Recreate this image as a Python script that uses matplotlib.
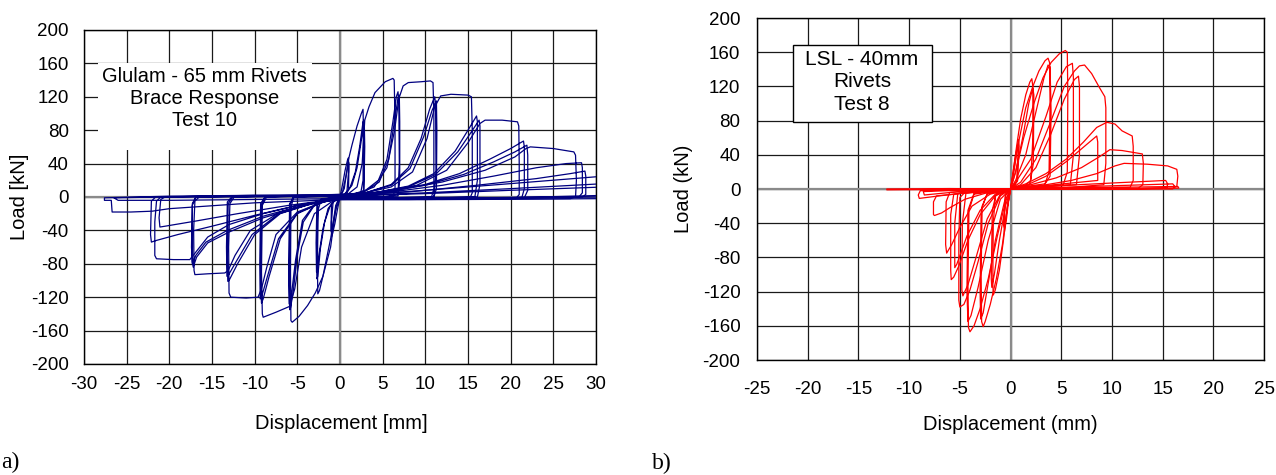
import numpy as np
import matplotlib
matplotlib.use("Agg")
import matplotlib.pyplot as plt
from matplotlib.patches import Rectangle

plt.rcParams['font.family'] = ['Liberation Sans', 'DejaVu Sans']
plt.rcParams['axes.unicode_minus'] = False

# Glulam - 65 mm rivets, test 10 (displacement mm, load kN), one list per amplitude stage
glulam_s1 = [(0, 0), (0.3, 15), (0.6, 32), (0.9, 45), (1.0, 47), (1.0, 30), (0.8, 5), (0.4, 2), (0, 0),
             (-0.3, -15), (-0.6, -32), (-0.9, -45), (-1.0, -48), (-1.0, -30), (-0.8, -5), (-0.4, -2), (0, 0),
             (0.3, 6), (0.7, 25), (1.0, 42), (1.05, 40), (1.0, 8), (0.5, 2), (0, 0),
             (-0.3, -6), (-0.7, -25), (-1.0, -42), (-1.05, -40), (-1.0, -8), (-0.5, -2), (0, 0)]
glulam_s2 = [(0, 0), (0.5, 10), (1.0, 45), (1.4, 62), (2.0, 85), (2.5, 100), (2.7, 105), (2.75, 80), (2.7, 20),
             (2.4, 3), (1.5, 1), (0, 0), (-0.5, -10), (-1.0, -45), (-1.5, -70), (-2.0, -95), (-2.4, -112),
             (-2.6, -116), (-2.65, -80), (-2.55, -15), (-2.2, -3), (-1, -1), (0, 0),
             (0.5, 3), (1.2, 12), (1.8, 30), (2.3, 60), (2.7, 90), (2.8, 92), (2.85, 60), (2.75, 8), (2.3, 2), (0, 0),
             (-0.5, -3), (-1.2, -12), (-1.8, -30), (-2.3, -62), (-2.6, -95), (-2.7, -98), (-2.72, -60),
             (-2.6, -8), (-2.2, -2), (0, 0),
             (0.6, 3), (1.4, 14), (2.0, 35), (2.5, 68), (2.85, 86), (2.9, 60), (2.8, 6), (2.3, 1), (0, 0),
             (-0.6, -3), (-1.4, -14), (-2.0, -38), (-2.5, -72), (-2.75, -90), (-2.8, -55), (-2.7, -6), (0, 0)]
glulam_s3 = [(0, 0), (1, 4), (2, 12), (2.6, 40), (2.9, 92), (3.4, 108), (4.1, 125), (5.3, 138), (6.2, 142),
             (6.35, 140), (6.45, 90), (6.45, 10), (6.2, -1), (3, -2), (0, -2),
             (-0.5, -15), (-1.1, -60), (-2.0, -95), (-2.9, -115), (-3.8, -130), (-4.8, -143), (-5.6, -150),
             (-5.75, -148), (-5.8, -90), (-5.75, -12), (-5.4, 0), (-3, 1), (0, 2),
             (1, 2), (3, 8), (4.5, 20), (5.5, 45), (6.2, 90), (6.6, 120), (6.8, 126), (6.9, 110), (6.95, 40),
             (6.8, 3), (5, 0), (0, 0), (-1, -3), (-3, -10), (-4.3, -30), (-5.0, -70), (-5.5, -115), (-5.8, -133),
             (-5.9, -135), (-5.95, -100), (-5.9, -10), (-5.5, 0), (0, 1),
             (1, 2), (3, 7), (4.6, 18), (5.7, 45), (6.4, 92), (6.8, 118), (6.95, 122), (7.0, 90), (7.0, 20),
             (6.8, 1), (0, -1), (-1, -3), (-3, -9), (-4.4, -28), (-5.2, -75), (-5.7, -118), (-5.95, -128),
             (-6.0, -90), (-5.9, -8), (-5.4, 0), (0, 1)]
glulam_s4 = [(0, 1), (2, 4), (4, 12), (5.5, 35), (6.4, 80), (6.9, 118), (7.4, 133), (8, 137), (9.5, 138),
             (10.6, 139), (10.9, 137), (11.0, 100), (11.0, 10), (10.7, -1), (6, -2), (0, -3),
             (-1, -6), (-3, -20), (-4.5, -60), (-5.3, -110), (-5.9, -131), (-7.5, -138), (-9.0, -144),
             (-9.1, -140), (-9.2, -90), (-9.1, -10), (-8.6, 0), (-4, 2), (0, 3),
             (3, 5), (6, 15), (8, 35), (9.5, 70), (10.5, 105), (11.1, 120), (11.2, 110), (11.25, 30), (11.0, 0),
             (6, -1), (0, -2), (-2, -6), (-5, -20), (-7, -50), (-8.3, -95), (-9.0, -122), (-9.2, -127),
             (-9.3, -100), (-9.2, -10), (-8.8, 0), (0, 2),
             (3, 5), (6, 14), (8.2, 34), (9.8, 72), (10.8, 104), (11.3, 115), (11.35, 80), (11.3, 10), (11.0, 0),
             (0, -2), (-2, -6), (-5, -19), (-7.2, -50), (-8.5, -95), (-9.2, -120), (-9.35, -122), (-9.4, -80),
             (-9.3, -8), (-8.8, 0), (0, 2)]
glulam_s5 = [(0, 1), (3, 5), (6, 12), (8.5, 30), (10.2, 70), (11.1, 108), (11.8, 121), (13, 123), (15.0, 122),
             (15.4, 120), (15.5, 80), (15.5, 5), (15.2, -2), (8, -3), (0, -3),
             (-2, -6), (-5, -18), (-7.5, -45), (-8.6, -85), (-9.2, -110), (-9.6, -120), (-11, -121),
             (-12.8, -120), (-13.0, -115), (-13.05, -60), (-12.9, -8), (-12.4, 0), (-6, 2), (0, 3),
             (4, 5), (8, 13), (11, 28), (13.5, 55), (15, 80), (16.0, 97), (16.1, 90), (16.1, 20), (15.8, 0),
             (8, -2), (0, -2), (-3, -7), (-7, -20), (-10, -45), (-12, -80), (-13, -100), (-13.15, -101),
             (-13.2, -70), (-13.1, -8), (-12.6, 0), (0, 2),
             (4, 5), (8, 12), (11.2, 27), (13.8, 54), (15.4, 78), (16.3, 92), (16.4, 85), (16.4, 15), (16.1, 0),
             (0, -2), (-3, -7), (-7.2, -20), (-10.3, -45), (-12.2, -78), (-13.1, -94), (-13.25, -95),
             (-13.3, -60), (-13.2, -6), (-12.7, 0), (0, 2)]
glulam_s6 = [(0, 1), (4, 5), (9, 14), (12.5, 32), (15, 65), (16.4, 88), (17.0, 92), (19, 92), (20.8, 90),
             (20.95, 85), (21.0, 40), (21.0, 3), (20.6, -2), (10, -3), (0, -3),
             (-3, -7), (-7, -18), (-10.5, -40), (-12.3, -70), (-13.1, -88), (-13.5, -91), (-15.5, -92),
             (-17.0, -93), (-17.1, -88), (-17.15, -40), (-17.0, -5), (-16.5, 0), (-8, 2), (0, 3),
             (5, 6), (10, 15), (14, 28), (17.5, 45), (20, 58), (21.5, 67), (21.6, 60), (21.6, 10), (21.3, -1),
             (10, -2), (0, -2), (-4, -10), (-9, -25), (-13, -42), (-15.5, -55), (-16.8, -72), (-17.2, -84),
             (-17.3, -78), (-17.3, -10), (-16.9, 0), (0, 2),
             (5, 6), (10, 14), (14.5, 27), (18, 42), (20.5, 54), (21.9, 62), (22.0, 50), (22.0, 8), (21.6, -1),
             (0, -2), (-4, -9), (-9, -23), (-13.2, -40), (-15.7, -54), (-16.9, -70), (-17.3, -80),
             (-17.4, -60), (-17.3, -8), (-16.9, 0), (0, 2)]
glulam_s7 = [(0, 1), (6, 7), (12, 18), (17, 32), (20.5, 48), (21.8, 58), (22.3, 60), (25, 58), (27.4, 54),
             (27.6, 50), (27.7, 20), (27.6, 0), (27, -2), (12, -3), (0, -3),
             (-4, -8), (-9, -20), (-13, -33), (-15.5, -48), (-17.2, -70), (-17.6, -75), (-19.5, -75),
             (-21.5, -74), (-21.7, -70), (-21.7, -30), (-21.5, -5), (-21, 0), (-10, 2), (0, 2),
             (6, 6), (12, 14), (18, 25), (23, 35), (26.5, 40), (28.3, 41), (28.4, 35), (28.4, 5), (28, 0),
             (14, -2), (0, -2), (-5, -10), (-10, -22), (-15, -35), (-19, -45), (-21.5, -52), (-22.1, -54),
             (-22.2, -45), (-22.1, -5), (-21.6, 0), (0, 2),
             (8, 6), (16, 14), (23, 22), (27, 28), (28.7, 31), (28.8, 25), (28.8, 3), (28.4, 0), (0, -2),
             (-6, -10), (-12, -20), (-17, -29), (-20.5, -35), (-21.1, -36), (-21.2, -25), (-21.0, -3),
             (-20.5, 0), (0, 2)]
glulam_s8 = [(0, 1), (10, 8), (20, 16), (31, 25), (31.5, 5), (30.5, -2), (15, -3), (0, -3),
             (-10, -7), (-20, -14), (-22, -17), (-24.5, -18), (-26.7, -18), (-26.8, -4), (-27.6, -4),
             (-27.6, -1), (-20, 1), (-10, 2), (0, 1),
             (10, 5), (20, 10), (31, 16), (31.2, 2), (15, -2), (0, -2), (-10, -3), (-20, -4), (-26, -4),
             (-26.5, -1), (-15, 1), (0, 1),
             (10, 4), (20, 8), (31, 12), (31.2, 0), (15, -1), (0, -1)]

# LSL - 40 mm rivets, test 8
lsl_s1 = [(0, 0), (0.2, 15), (0.5, 40), (0.8, 58), (0.85, 50), (0.7, 10), (0.3, 3), (0, 0),
          (-0.2, -15), (-0.4, -35), (-0.6, -50), (-0.65, -42), (-0.5, -8), (-0.2, -3), (0, 0),
          (0.3, 20), (0.7, 52), (0.75, 45), (0.6, 8), (0, 0), (-0.3, -20), (-0.6, -45), (-0.65, -38),
          (-0.5, -6), (0, 0)]
lsl_s2 = [(0, 0), (0.2, 15), (0.6, 50), (1.0, 82), (1.5, 110), (1.9, 125), (2.1, 129), (2.2, 120), (2.2, 60),
          (2.0, 10), (1.4, 4), (0, 0), (-0.3, -20), (-0.7, -60), (-1.1, -95), (-1.5, -118), (-1.7, -124),
          (-1.75, -110), (-1.7, -40), (-1.5, -8), (-0.8, -3), (0, 0),
          (0.5, 20), (1.2, 60), (1.8, 100), (2.2, 118), (2.3, 110), (2.25, 30), (1.9, 5), (0, 0),
          (-0.5, -20), (-1.1, -60), (-1.6, -100), (-1.85, -115), (-1.9, -105), (-1.8, -25), (-1.4, -5), (0, 0)]
lsl_s3 = [(0, 0), (0.3, 18), (0.8, 55), (1.5, 95), (2.2, 120), (2.8, 138), (3.4, 150), (3.7, 153),
          (3.85, 148), (3.9, 100), (3.8, 20), (3.4, 6), (1.5, 3), (0, 0),
          (-0.3, -20), (-0.8, -65), (-1.4, -105), (-2.0, -135), (-2.5, -155), (-2.7, -161), (-2.85, -155),
          (-2.9, -100), (-2.8, -20), (-2.3, -6), (-1, -3), (0, 0),
          (0.5, 10), (1.5, 40), (2.5, 90), (3.3, 130), (3.7, 145), (3.9, 143), (4.0, 90), (3.9, 15),
          (3.3, 4), (0, 0), (-0.6, -15), (-1.5, -60), (-2.2, -110), (-2.7, -145), (-2.95, -152),
          (-3.0, -120), (-2.9, -25), (-2.3, -5), (0, 0)]
lsl_s4 = [(0, 0), (0.5, 20), (1.3, 60), (2.3, 100), (3.2, 130), (4.0, 148), (4.8, 158), (5.4, 162),
          (5.6, 160), (5.65, 110), (5.6, 20), (5.2, 5), (2, 2), (0, 0),
          (-0.5, -15), (-1.3, -55), (-2.2, -105), (-3.0, -140), (-3.6, -160), (-4.0, -167), (-4.15, -162),
          (-4.2, -110), (-4.1, -25), (-3.6, -6), (-1, -2), (0, 0),
          (0.5, 8), (2, 35), (3.5, 85), (4.6, 125), (5.5, 143), (6.1, 147), (6.2, 130), (6.2, 40), (5.9, 5),
          (0, 0), (-1, -12), (-2.2, -60), (-3.2, -115), (-3.9, -148), (-4.2, -155), (-4.3, -120),
          (-4.2, -25), (-3.6, -5), (0, 0)]
lsl_s5 = [(0, 0), (1, 8), (2.5, 35), (4, 80), (5.3, 120), (6.3, 138), (6.8, 144), (7.3, 145), (8.0, 135),
          (8.8, 118), (9.3, 108), (9.4, 95), (9.4, 30), (9.2, 5), (6, 2), (0, 0),
          (-1, -8), (-2.2, -40), (-3.2, -85), (-4.0, -118), (-4.6, -135), (-5.0, -138), (-5.1, -130),
          (-5.1, -60), (-5.0, -10), (-4.5, -4), (-2, -2), (0, 0),
          (1, 5), (2.5, 25), (4, 65), (5.3, 105), (6.3, 128), (6.7, 132), (6.8, 120), (6.8, 40), (6.5, 5),
          (0, 0), (-1, -6), (-2.3, -35), (-3.4, -80), (-4.2, -112), (-4.7, -125), (-4.8, -118),
          (-4.75, -40), (-4.4, -5), (0, 0)]
lsl_s6 = [(0, 0), (1.5, 6), (3.5, 18), (5.5, 35), (7.2, 55), (8.5, 72), (9.5, 78), (10.3, 76), (11.0, 68),
          (12.0, 62), (12.1, 50), (12.1, 10), (11.8, 2), (6, 1), (0, 0),
          (-1.5, -8), (-3, -30), (-4.2, -60), (-5.1, -90), (-5.6, -103), (-5.85, -106), (-5.9, -95),
          (-5.9, -30), (-5.6, -6), (-3, -2), (0, 0),
          (1.5, 4), (3.5, 15), (5.5, 32), (7.5, 52), (8.5, 62), (8.6, 55), (8.6, 10), (0, 0),
          (-1.5, -6), (-3, -25), (-4.3, -55), (-5.3, -88), (-5.5, -92), (-5.5, -40), (-5.2, -5), (0, 0)]
lsl_s7 = [(0, 0), (2, 5), (4.5, 13), (7, 25), (8.8, 38), (9.8, 46), (11, 45), (13.0, 41), (13.1, 30),
          (13.05, 5), (12.6, 1), (6, 0), (0, 0),
          (-2, -6), (-3.8, -20), (-5, -45), (-5.8, -65), (-6.3, -75), (-6.4, -65), (-6.35, -15),
          (-6.0, -4), (-3, -1), (0, 0)]
lsl_s8 = [(0, 0), (3, 4), (6, 10), (8.5, 18), (10.3, 27), (11.2, 30), (13.5, 29), (15.5, 27), (16.4, 23),
          (16.5, 15), (16.4, 3), (16, 1), (8, 0), (0, 0),
          (-2.5, -5), (-4.5, -12), (-6, -22), (-6.8, -28), (-7.5, -31), (-7.6, -30), (-7.6, -15),
          (-7.3, -8), (-3, -3), (0, 0)]
lsl_s9 = [(0, 0), (5, 4), (10, 7), (15.3, 10), (15.5, 6), (15.4, 1), (10, 0), (0, 0),
          (-4, -4), (-7, -8), (-9, -11), (-9.1, -7), (-8.9, -2), (-5, -1), (0, 0),
          (8, 3), (16, 6), (16.2, 3), (16, 0), (0, 0), (-5, -3), (-8.5, -7), (-8.6, -3), (-4, -1), (0, 0),
          (8, 1.5), (16.5, 3), (16.6, 1), (10, 0), (0, 0), (-6, -0.5), (-12.2, -1), (-12.2, 0), (-6, 0.5),
          (0, 0)]

glulam_stages = [glulam_s1, glulam_s2, glulam_s3, glulam_s4, glulam_s5, glulam_s6, glulam_s7, glulam_s8]
lsl_stages = [lsl_s1, lsl_s2, lsl_s3, lsl_s4, lsl_s5, lsl_s6, lsl_s7, lsl_s8, lsl_s9]

fig = plt.figure(figsize=(12.76, 4.75), dpi=100)
ax1 = fig.add_axes([0.0658, 0.2337, 0.4013, 0.7032])
ax2 = fig.add_axes([0.5933, 0.2421, 0.3973, 0.7200])


def style_axes(ax, xlim, xticks, xpad, ypad):
    ax.set_xlim(*xlim)
    ax.set_ylim(-200, 200)
    ax.set_xticks(xticks)
    ax.set_yticks(np.arange(-200, 201, 40))
    ax.grid(True, color='#1a1a1a', linewidth=0.9)
    ax.axhline(0, color='#8a8a8a', linewidth=1.6, zorder=1)
    ax.axvline(0, color='#8a8a8a', linewidth=1.6, zorder=1)
    ax.set_axisbelow(True)
    ax.tick_params(length=0, labelsize=13.5)
    ax.tick_params(axis='x', pad=xpad)
    ax.tick_params(axis='y', pad=ypad)
    for s in ax.spines.values():
        s.set_linewidth(1.0)
        s.set_color('black')


style_axes(ax1, (-30, 30), np.arange(-30, 31, 5), 9, 11)
style_axes(ax2, (-25, 25), np.arange(-25, 26, 5), 15, 12)

for st in glulam_stages:
    d, f = np.array(st).T
    ax1.plot(d, f, color='#000080', linewidth=0.9, zorder=3)
for st in lsl_stages:
    d, f = np.array(st).T
    ax2.plot(d, f, color='#ff0000', linewidth=0.9, zorder=3)

ax1.set_xlabel('Displacement [mm]', fontsize=14.5)
ax1.set_ylabel('Load [kN]', fontsize=14.5)
ax1.xaxis.set_label_coords(0.502, -0.177)
ax1.yaxis.set_label_coords(-0.125, 0.5)
ax2.set_xlabel('Displacement (mm)', fontsize=14.5)
ax2.set_ylabel('Load (kN)', fontsize=14.5)
ax2.xaxis.set_label_coords(0.499, -0.19)
ax2.yaxis.set_label_coords(-0.146, 0.5)
ax1.xaxis.label.set_va('center')
ax2.xaxis.label.set_va('center')
ax1.yaxis.label.set_va('center')
ax2.yaxis.label.set_va('center')

# annotation boxes
ax1.add_patch(Rectangle((0.027, 0.641), 0.418, 0.26, transform=ax1.transAxes,
                        facecolor='white', edgecolor='none', zorder=4))
ax1.text(0.236, 0.795, 'Glulam - 65 mm Rivets\nBrace Response\nTest 10', transform=ax1.transAxes,
         ha='center', va='center', fontsize=14.5, linespacing=1.22, zorder=5)
ax2.add_patch(Rectangle((0.071, 0.696), 0.274, 0.225, transform=ax2.transAxes,
                        facecolor='white', edgecolor='black', linewidth=1.0, zorder=4))
ax2.text(0.207, 0.813, 'LSL - 40mm\nRivets\nTest 8', transform=ax2.transAxes,
         ha='center', va='center', fontsize=15, linespacing=1.25, zorder=5)

fig.text(0.001, 0.027, 'a)', fontsize=17, family='Liberation Serif', va='center')
fig.text(0.511, 0.024, 'b)', fontsize=17, family='Liberation Serif', va='center')

fig.savefig('out.png', dpi=100)
